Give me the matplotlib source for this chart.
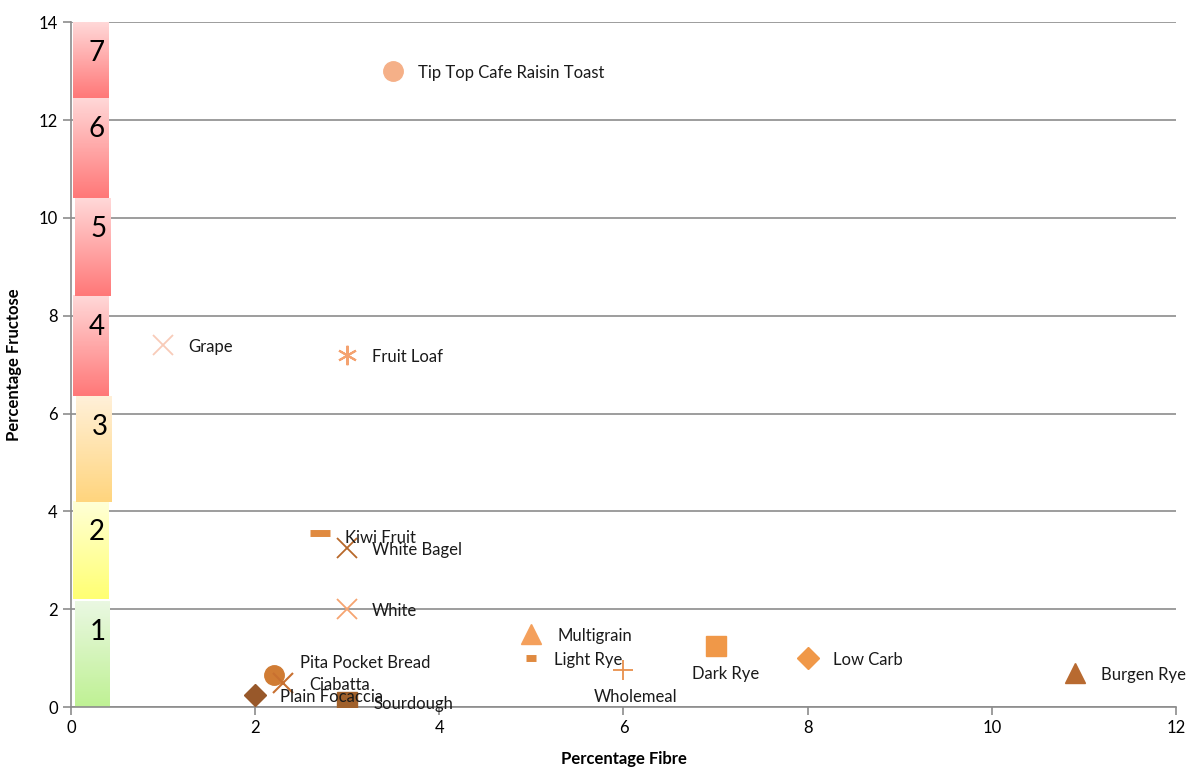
import numpy as np
import matplotlib
matplotlib.use("Agg")
import matplotlib.pyplot as plt
from matplotlib.colors import LinearSegmentedColormap

plt.rcParams['font.family'] = ['Lato', 'DejaVu Sans']

# Data
names = ['Tip Top Cafe Raisin Toast', 'Grape', 'Fruit Loaf', 'Kiwi Fruit', 'White Bagel',
         'White', 'Pita Pocket Bread', 'Ciabatta', 'Plain Focaccia', 'Sourdough',
         'Multigrain', 'Light Rye', 'Wholemeal', 'Dark Rye', 'Low Carb', 'Burgen Rye']
fibre = [3.5, 1.0, 3.0, 2.7, 3.0, 3.0, 2.2, 2.3, 2.0, 3.0, 5.0, 5.0, 6.0, 7.0, 8.0, 10.9]
fructose = [13.0, 7.4, 7.2, 3.55, 3.25, 2.0, 0.65, 0.5, 0.25, 0.1, 1.5, 1.0, 0.75, 1.25, 1.0, 0.7]

# band scale on the left
band_labels = ['1', '2', '3', '4', '5', '6', '7']
band_bottoms = [0.0, 2.2, 4.2, 6.35, 8.4, 10.4, 12.45]
band_tops = [2.15, 4.2, 6.35, 8.4, 10.4, 12.45, 14.0]
band_top_colors = ['#eaf8e2', '#ffffd6', '#fff0d8', '#ffd8d8', '#ffd8d8', '#ffd8d8', '#ffd8d8']
band_bottom_colors = ['#bff194', '#ffff73', '#ffd57e', '#ff7878', '#ff7878', '#ff7878', '#ff7878']
band_x = [(0.04, 0.42), (0.02, 0.41), (0.05, 0.44), (0.02, 0.41), (0.04, 0.43), (0.02, 0.41), (0.02, 0.41)]

# marker styles per point
markers = ['o', 'x', (6, 2, 0), '_', 'x', 'x', 'o', 'x', 'D', 's', '^', '_', '+', 's', 'D', '^']
colors = ['#f5b088', '#f8cbb8', '#f4a270', '#e08a40', '#b8682a', '#f6a470', '#d07c34', '#c87030',
          '#98582a', '#a0602a', '#f4a05c', '#e08a40', '#e8904c', '#f09848', '#f09848', '#b86a30']
sizes = [14, 14, 14, 14, 14, 14, 14, 14, 11, 14, 14, 7, 14, 14, 11, 14]
edge_w = [1, 1.3, 1.5, 5, 1.3, 1.3, 1, 1.5, 1, 1, 1, 5, 1.3, 1, 1, 1]
# label offsets in points (dx, dy) and alignment
offsets = [(18, -1.5), (18, -1.5), (18, -1.5), (18, -3), (18, -1.5), (18, -1.5), (19, 8.5), (19, -1.5),
           (18, -1.5), (19, -1.5), (19, -1.5), (16, -1.5), (9, -19.5), (7, -20.5), (18, -1.5), (19, -1.5)]
has = ['left'] * 12 + ['center', 'center', 'left', 'left']

fig = plt.figure(figsize=(11.89, 7.69), dpi=100)
ax = fig.add_axes([0.0597, 0.0806, 0.9293, 0.8904])

for lab, b, t, c0, c1, (x0, x1) in zip(band_labels, band_bottoms, band_tops,
                                         band_top_colors, band_bottom_colors, band_x):
    cmap = LinearSegmentedColormap.from_list('b', [c1, c0])
    grad = np.linspace(0, 1, 64).reshape(-1, 1)
    ax.imshow(grad, cmap=cmap, origin='lower', extent=(x0, x1, b, t),
              aspect='auto', zorder=1)
    ax.text(x1 - 0.04, t - 0.36, lab, ha='right', va='top', fontsize=20,
            color='black', zorder=2)

for i in range(len(names)):
    mk = markers[i]
    ax.plot(fibre[i], fructose[i], linestyle='none', marker=mk, markersize=sizes[i],
            color=colors[i], markeredgewidth=edge_w[i],
            markeredgecolor=colors[i], zorder=3)
    dx, dy = offsets[i]
    ax.annotate(names[i], (fibre[i], fructose[i]), xytext=(dx, dy),
                textcoords='offset points', ha=has[i], va='center',
                fontsize=12, color='#1a1a1a', zorder=4)

ax.set_xlim(0, 12)
ax.set_ylim(0, 14)
ax.set_xticks(range(0, 13, 2))
ax.set_yticks(range(0, 15, 2))
ax.yaxis.grid(True, color='#8c8c8c', linewidth=1.2, zorder=0)
ax.set_axisbelow(True)
for s in ['top', 'right']:
    ax.spines[s].set_visible(False)
for s in ['left', 'bottom']:
    ax.spines[s].set_color('#8c8c8c')
    ax.spines[s].set_linewidth(1.2)
ax.tick_params(axis='both', colors='#8c8c8c', labelcolor='black', labelsize=12,
               length=6, width=1.2)
ax.set_xlabel('Percentage Fibre', fontsize=12, fontweight='bold', labelpad=11)
ax.set_ylabel('Percentage Fructose', fontsize=12, fontweight='bold', labelpad=12)

fig.savefig('out.png', dpi=100)
